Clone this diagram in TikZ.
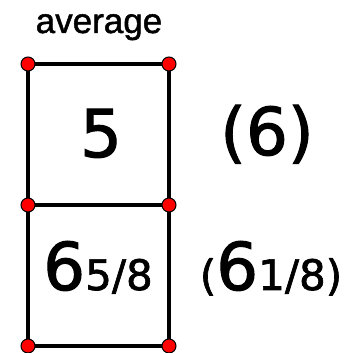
\documentclass[tikz,border=0pt]{standalone}
\usepackage{fontspec}
\newfontfamily\digfont[FakeBold=1.6]{DejaVu Sans}
\newfontfamily\labfont[FakeBold=1.4]{Liberation Sans}
\newcommand{\bigsz}{\digfont\fontsize{66}{66}\selectfont}
\newcommand{\smsz}{\digfont\fontsize{42}{42}\selectfont}
\begin{document}
\begin{tikzpicture}[x=1pt,y=-1pt,
  edge/.style={line width=4.8pt},
  dot/.style={circle,fill=red,draw=black,line width=1pt,minimum size=14pt,inner sep=0pt},
  num/.style={font=\bigsz,inner sep=0pt,anchor=base},
  lab/.style={font=\labfont\fontsize{35}{35}\selectfont,inner sep=0pt,anchor=base}]
\useasboundingbox (0,0) rectangle (360,353);
\coordinate (p1) at (28,64);
\coordinate (p2) at (169,64);
\coordinate (p3) at (28,205);
\coordinate (p4) at (169,205);
\coordinate (p5) at (28,346);
\coordinate (p6) at (169,346);
\draw[edge] (p1) -- (p2) -- (p6) -- (p5) -- cycle;
\draw[edge] (p3) -- (p4);
\foreach \i in {1,...,6} \node[dot] (d\i) at (p\i) {};
\node[lab] (avg) at (99,33) {average};
\node[num] (v1) at (101,157) {5};
\node[num] (v2) at (267,155) {(6)};
\node[num] (v3) at (98,290) {6{\smsz 5/8}};
\node[num] (v4) at (271,290) {{\smsz(}6{\smsz 1/8)}};
\end{tikzpicture}
\end{document}
